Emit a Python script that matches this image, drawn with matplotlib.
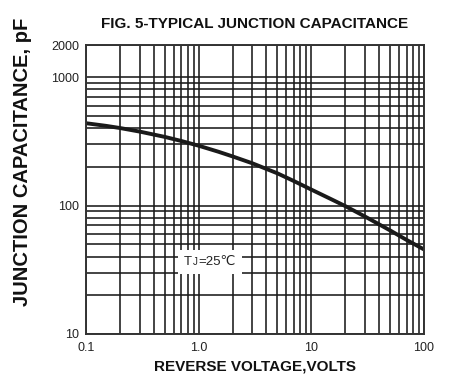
import matplotlib
matplotlib.use('Agg')
import matplotlib.pyplot as plt
from matplotlib.ticker import LogLocator, NullFormatter
from matplotlib.offsetbox import TextArea, HPacker, AnnotationBbox

plt.rcParams['font.family'] = ['Liberation Sans', 'DejaVu Sans']

# reverse voltage (V) vs junction capacitance (pF)
volts = [0.1, 0.15, 0.2, 0.3, 0.5, 0.7, 1.0, 1.5, 2, 3, 5, 7,
         10, 15, 20, 30, 50, 70, 100]
cap = [437, 417, 401, 376, 342, 318, 292, 262, 241, 213, 178, 155,
       133, 112, 99, 82, 64, 54, 45.5]

x_ticks = [0.1, 1, 10, 100]
x_labels = ['0.1', '1.0', '10', '100']
y_ticks = [10, 100, 1000, 1775]
y_labels = ['10', '100', '1000', '2000']

fig = plt.figure(figsize=(4.56, 3.86), dpi=100)
ax = fig.add_axes([86/456, 1 - 334/386, 338/456, 289/386])

ax.set_xscale('log')
ax.set_yscale('log')
ax.set_xlim(0.1, 100)
ax.set_ylim(10, 1775)

ax.xaxis.set_minor_locator(LogLocator(base=10, subs=range(2, 10)))
ax.yaxis.set_minor_locator(LogLocator(base=10, subs=range(2, 10)))
ax.xaxis.set_minor_formatter(NullFormatter())
ax.yaxis.set_minor_formatter(NullFormatter())
ax.set_xticks(x_ticks)
ax.set_xticklabels(x_labels)
ax.set_yticks(y_ticks)
ax.set_yticklabels(y_labels)
ax.tick_params(which='both', length=0, labelsize=9, colors='#222222')
ax.tick_params(axis='x', pad=6)
ax.tick_params(axis='y', pad=5)

ax.grid(True, which='both', color='#1a1a1a', lw=1.15)
ax.set_axisbelow(True)
for s in ax.spines.values():
    s.set_color('#333333')
    s.set_linewidth(1.4)

ax.plot(volts, cap, color='#1a1a1a', lw=2.8, solid_capstyle='butt')

# T_J = 25 degC label on a white patch
tp = dict(fontsize=9.5, color='#222222')
parts = [TextArea('T', textprops=tp),
         TextArea('J', textprops=dict(fontsize=7, color='#222222')),
         TextArea('=25\u2103', textprops=tp)]
label = HPacker(children=parts, align='baseline', pad=0, sep=0.5)
ab = AnnotationBbox(label, (1.26, 36.5), frameon=True, pad=0.45,
                    bboxprops=dict(facecolor='white', edgecolor='none'))
ax.add_artist(ab)

ax.set_title('FIG. 5-TYPICAL JUNCTION CAPACITANCE', fontsize=11,
             fontweight='bold', pad=12, color='#111111')
ax.set_xlabel('REVERSE VOLTAGE,VOLTS', fontsize=11, fontweight='bold',
              labelpad=4, color='#111111')
fig.text(23/456, 1 - 162/386, 'JUNCTION CAPACITANCE, pF', rotation=90,
         fontsize=14.5, fontweight='bold', ha='center', va='center',
         color='#111111')

fig.savefig('out.png', dpi=100)
plt.close(fig)
